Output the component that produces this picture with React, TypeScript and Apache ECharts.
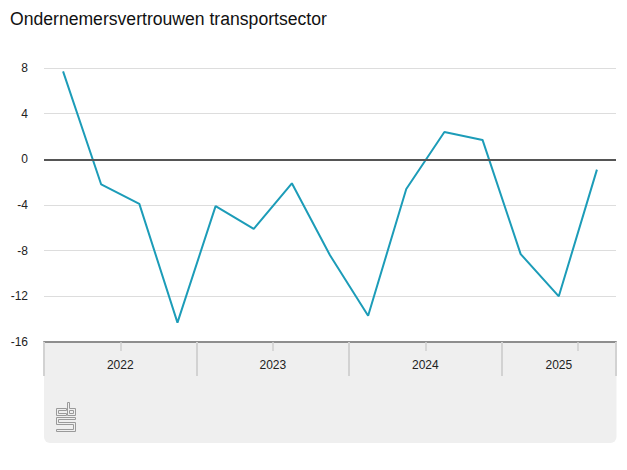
import React, { useEffect, useRef } from "react";
import * as echarts from "echarts";

const TITLE = "Ondernemersvertrouwen transportsector";
const quarters = [
  "2022 K1", "2022 K2", "2022 K3", "2022 K4",
  "2023 K1", "2023 K2", "2023 K3", "2023 K4",
  "2024 K1", "2024 K2", "2024 K3", "2024 K4",
  "2025 K1", "2025 K2", "2025 K3",
];
const values = [7.7, -2.2, -3.9, -14.3, -4.1, -6.1, -2.1, -8.4, -13.7, -2.6, 2.4, 1.7, -8.3, -12.0, -0.9];
const years = ["2022", "2023", "2024", "2025"];
const yearBounds = [0, 4, 8, 12, 15];
const yearCenters = [2, 6, 10, 13.5];
const yTicks = { min: -16, max: 8, interval: 4 };

const LOGO_D =
  "M10 6H0V13H10V11H2V8H10Z M11 0H13V6H19V13H11Z M13 8H17V11H13Z M0 15H19V17H2V20H19V29H0V27H17V22H0Z";

export default function App() {
  const ref = useRef<HTMLDivElement>(null);
  useEffect(() => {
    if (!ref.current) return;
    try {
      echarts.graphic.registerShape("logo", echarts.graphic.extendPath(LOGO_D, {}) as any);
    } catch (e) {}
    const chart = echarts.init(ref.current, undefined, { renderer: "svg" });
    const font = "'Liberation Sans', Arial, sans-serif";
    chart.setOption({
      animation: false,
      textStyle: { fontFamily: font },
      grid: { left: 44, right: 11, top: 68, bottom: 128, containLabel: false },
      graphic: [
        {
          type: "rect",
          z: -10,
          shape: { x: 44, y: 342, width: 572.5, height: 101, r: [0, 0, 6, 6] },
          style: { fill: "#efefef" },
        },
        {
          type: "text",
          x: 10,
          y: 19,
          style: {
            text: TITLE,
            fontSize: 17.6,
            fontFamily: font,
            fill: "#111",
            textVerticalAlign: "middle",
          },
        },
        {
          type: "logo",
          x: 56.5,
          y: 402.5,
          scaleX: 1,
          scaleY: 1,
          style: { fill: "none", stroke: "#9a9a9a", lineWidth: 1 },
        },
      ],
      xAxis: [
        {
          type: "category",
          data: quarters,
          boundaryGap: true,
          axisLine: { show: true, onZero: false, lineStyle: { color: "#8e8e8e", width: 2 } },
          axisTick: { show: true, length: 9, lineStyle: { color: "#cfcfcf", width: 1.5 } },
          axisLabel: { show: false },
          splitLine: { show: false },
        },
        {
          type: "value",
          min: 0,
          max: 15,
          position: "bottom",
          axisLine: { show: false, onZero: false },
          axisTick: {
            show: true,
            length: 34,
            customValues: yearBounds,
            lineStyle: { color: "#d2d2d2", width: 2 },
          },
          axisLabel: {
            show: true,
            customValues: yearCenters,
            margin: 17,
            fontSize: 12,
            color: "#222",
            fontFamily: font,
            formatter: (v: number) => {
              const i = yearCenters.indexOf(v);
              return i >= 0 ? years[i] : "";
            },
          },
          splitLine: { show: false },
        },
      ],
      yAxis: {
        type: "value",
        min: yTicks.min,
        max: yTicks.max,
        interval: yTicks.interval,
        axisLine: { show: false },
        axisTick: { show: false },
        axisLabel: { margin: 16, fontSize: 12, color: "#222", fontFamily: font },
        splitLine: { show: true, lineStyle: { color: "#dddddd", width: 1 } },
      },
      series: [
        {
          type: "line",
          data: values,
          xAxisIndex: 0,
          symbol: "none",
          lineStyle: { color: "#1c9cb8", width: 2 },
          itemStyle: { color: "#1c9cb8" },
          markLine: {
            silent: true,
            symbol: "none",
            label: { show: false },
            lineStyle: { color: "#555", width: 2, type: "solid" },
            data: [{ yAxis: 0 }],
          },
          z: 3,
        },
      ],
    });
    return () => chart.dispose();
  }, []);
  return (
    <div
      ref={ref}
      style={{ position: "absolute", left: 0, top: 0, width: 627, height: 470 }}
    />
  );
}
